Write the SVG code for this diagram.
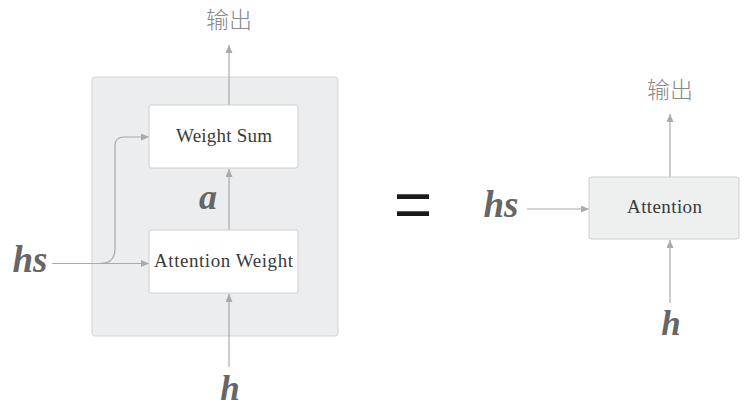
<svg xmlns="http://www.w3.org/2000/svg" width="748" height="416" viewBox="0 0 748 416">
<style>
.outer{fill:#ecedee;stroke:#d2d3d4;stroke-width:1}
.inner{fill:#ffffff;stroke:#cfd0d1;stroke-width:1}
.att{fill:#eeefef;stroke:#cfd0d1;stroke-width:1}
.conn{fill:none;stroke:#a9aaab;stroke-width:1.2}
.box{font-family:"Liberation Serif","DejaVu Serif",serif;font-size:19px;fill:#3a3a3a}
.math{font-family:"Liberation Serif","DejaVu Serif",serif;font-style:italic;font-weight:bold;fill:#666666}
.cjk{font-family:"Noto Sans CJK SC","Noto Sans",sans-serif;font-weight:300;font-size:23px;fill:#888888}
.eq{font-family:"Liberation Sans","DejaVu Sans",sans-serif;font-size:66px;fill:#1a1a1a}
</style>
<defs>
<marker id="arr" markerUnits="userSpaceOnUse" markerWidth="8" markerHeight="7" refX="8" refY="3.5" orient="auto">
<path d="M0,0 L8,3.5 L0,7 z" fill="#a9aaab"/>
</marker>
</defs>
<g id="outer-box"><rect class="outer" x="92" y="77" width="246" height="259" rx="3"/></g>
<g id="connectors">
<line class="conn" x1="229" y1="105" x2="229" y2="45" marker-end="url(#arr)"/>
<line class="conn" x1="229" y1="230" x2="229" y2="169" marker-end="url(#arr)"/>
<line class="conn" x1="229" y1="367" x2="229" y2="294" marker-end="url(#arr)"/>
<line class="conn" x1="52" y1="263.5" x2="149" y2="263.5" marker-end="url(#arr)"/>
<path class="conn" d="M100,263.5 Q115,263.5 115,249 L115,146 Q115,137 124,137 L149,137" marker-end="url(#arr)"/>
<line class="conn" x1="670" y1="177" x2="670" y2="114" marker-end="url(#arr)"/>
<line class="conn" x1="527" y1="209" x2="589" y2="209" marker-end="url(#arr)"/>
<line class="conn" x1="670" y1="303" x2="670" y2="240" marker-end="url(#arr)"/>
</g>
<g id="weight-sum"><rect class="inner" x="149" y="105" width="149" height="63" rx="2"/>
<text class="box" x="224" y="142" text-anchor="middle" textLength="96" lengthAdjust="spacing">Weight Sum</text></g>
<g id="attention-weight"><rect class="inner" x="149" y="230" width="149" height="63" rx="2"/>
<text class="box" x="223.5" y="267" text-anchor="middle" textLength="139" lengthAdjust="spacing">Attention Weight</text></g>
<g id="attention"><rect class="att" x="589" y="177" width="150" height="62" rx="2"/>
<text class="box" x="664.5" y="213" text-anchor="middle" font-size="18" textLength="75" lengthAdjust="spacing">Attention</text></g>
<g id="output-left"><text class="cjk" x="229" y="28" text-anchor="middle">输出</text></g>
<g id="output-right"><text class="cjk" x="670" y="98" text-anchor="middle">输出</text></g>
<g id="label-a"><text class="math" x="208" y="209" font-size="36" text-anchor="middle">a</text></g>
<g id="label-hs-left"><text class="math" x="30" y="272" font-size="37" text-anchor="middle">hs</text></g>
<g id="label-h-left"><text class="math" x="230" y="400" font-size="35" text-anchor="middle">h</text></g>
<g id="label-hs-right"><text class="math" x="501" y="217" font-size="37" text-anchor="middle">hs</text></g>
<g id="label-h-right"><text class="math" x="671" y="335" font-size="35" text-anchor="middle">h</text></g>
<g id="equals"><text class="eq" x="413" y="227" text-anchor="middle">=</text></g>
</svg>
